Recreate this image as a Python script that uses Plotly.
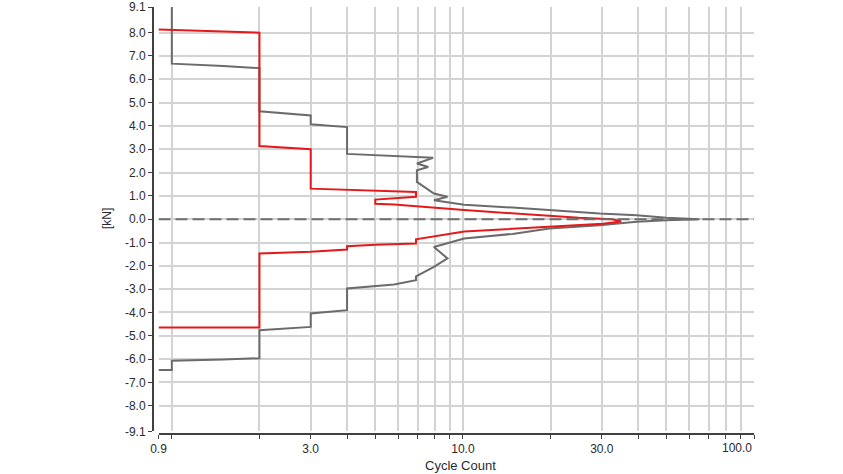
import plotly.graph_objects as go
import math

# ---- data ----
gray_cycles = [1.0, 1.0, 1.5, 2.0, 2.0, 2.5, 3.0, 3.0, 4.0, 4.0, 5.0, 6.0, 7.9,
               6.95, 7.6, 6.95, 6.95, 7.95, 8.85, 7.95, 10.1, 14.8, 19.8, 29.5, 39.5, 50, 65,
               50, 39.5, 29.5, 19.8, 14.8, 10.1, 7.95, 8.85, 7.95, 6.9, 6.9, 5.8, 5.0, 4.0,
               4.0, 3.5, 3.0, 3.0, 2.5, 2.0, 2.0, 1.5, 1.0, 1.0, 0.9]
gray_kn = [9.1, 6.67, 6.57, 6.48, 4.63, 4.52, 4.45, 4.07, 3.95, 2.8, 2.74, 2.68, 2.63,
           2.39, 2.24, 2.1, 1.6, 1.1, 0.96, 0.81, 0.62, 0.5, 0.39, 0.24, 0.17, 0.06, 0.0,
           -0.04, -0.11, -0.26, -0.4, -0.63, -0.83, -1.19, -1.68, -2.04, -2.45, -2.62, -2.8, -2.88, -2.97,
           -3.9, -3.97, -4.04, -4.62, -4.68, -4.76, -5.96, -6.02, -6.07, -6.47, -6.47]

red_cycles = [0.9, 1.3, 1.6, 2.0, 2.0, 2.5, 3.0, 3.0, 5.0, 6.9, 6.9, 5.0, 5.0, 5.8,
              10.1, 14.8, 19.8, 25, 32.6, 35, 30.2, 19.8, 14.8, 10.1, 6.9, 6.9, 5.0, 4.0,
              4.0, 3.0, 2.0, 2.0, 0.9]
red_kn = [8.14, 8.08, 8.04, 8.0, 3.14, 3.06, 3.0, 1.31, 1.24, 1.17, 0.96, 0.84, 0.66, 0.63,
          0.39, 0.25, 0.14, 0.06, 0.0, -0.1, -0.19, -0.33, -0.43, -0.53, -0.86, -1.04, -1.1, -1.16,
          -1.3, -1.4, -1.47, -4.64, -4.64]

x_range = [0.9, 100.0]
y_range = [-9.1, 9.1]

x_grid = [0.9] + list(range(1, 10)) + list(range(10, 101, 10))
x_labels = {0.9: "0.9", 3: "3.0", 10: "10.0", 30: "30.0"}
y_ticks = [-9.1] + list(range(-8, 9)) + [9.1]

# ---- figure ----
FONT = "Liberation Sans, Arial, sans-serif"
W, H = 843, 474
L, R, T, B = 153, 89, 7, 40
pw, ph = W - L - R, H - T - B

fig = go.Figure()
fig.add_trace(go.Scatter(x=gray_cycles, y=gray_kn, mode="lines",
                         line=dict(color="#6b6b6b", width=2), showlegend=False))
fig.add_trace(go.Scatter(x=red_cycles, y=red_kn, mode="lines",
                         line=dict(color="#e5191b", width=2), showlegend=False))
fig.add_trace(go.Scatter(x=x_range, y=[0, 0], mode="lines",
                         line=dict(color="#6e6e6e", width=2, dash="12px,5px"),
                         showlegend=False))

fig.update_layout(
    width=W, height=H, autosize=False,
    margin=dict(l=L, r=R, t=T, b=B, pad=0, autoexpand=False),
    paper_bgcolor="white", plot_bgcolor="white",
    font=dict(family=FONT, size=12, color="#2b2b2b"),
    xaxis=dict(
        type="log", range=[math.log10(x_range[0]), math.log10(x_range[1])],
        domain=[5.5 / pw, 1], anchor="free", position=0, automargin=False,
        tickvals=x_grid,
        ticktext=[x_labels.get(v, "") for v in x_grid],
        showgrid=True, gridcolor="#d3d3d3", gridwidth=1.6,
        showline=True, linecolor="#404040", linewidth=2,
        ticks="outside", ticklen=4, tickcolor="#404040", tickwidth=1,
        zeroline=False,
    ),
    yaxis=dict(
        range=y_range,
        domain=[2.6 / ph, 1], anchor="free", position=0, automargin=False,
        tickvals=y_ticks,
        ticktext=[f"{v:.1f}" for v in y_ticks],
        showgrid=True, gridcolor="#d3d3d3", gridwidth=1.6,
        showline=True, linecolor="#404040", linewidth=2,
        ticks="outside", ticklen=4, tickcolor="#404040", tickwidth=1,
        zeroline=False,
    ),
    annotations=[
        dict(text="100.0", xref="x", yref="paper", x=2, y=-14 / ph,
             xanchor="right", yanchor="middle", showarrow=False,
             font=dict(family=FONT, size=12, color="#2b2b2b")),
        dict(text="Cycle Count", xref="paper", yref="paper",
             x=(460 - L) / pw, y=-(465 - (H - B)) / ph,
             xanchor="center", yanchor="middle", showarrow=False,
             font=dict(family=FONT, size=13, color="#2b2b2b")),
        dict(text="[kN]", xref="paper", yref="paper",
             x=(107 - L) / pw, y=((H - B) - 219) / ph, textangle=-90,
             xanchor="center", yanchor="middle", showarrow=False,
             font=dict(family=FONT, size=12, color="#2b2b2b")),
    ],
)

fig.write_html("out.html",
               config={"displayModeBar": False},
               post_script="document.body.style.margin='0px';document.body.style.overflow='hidden';")
